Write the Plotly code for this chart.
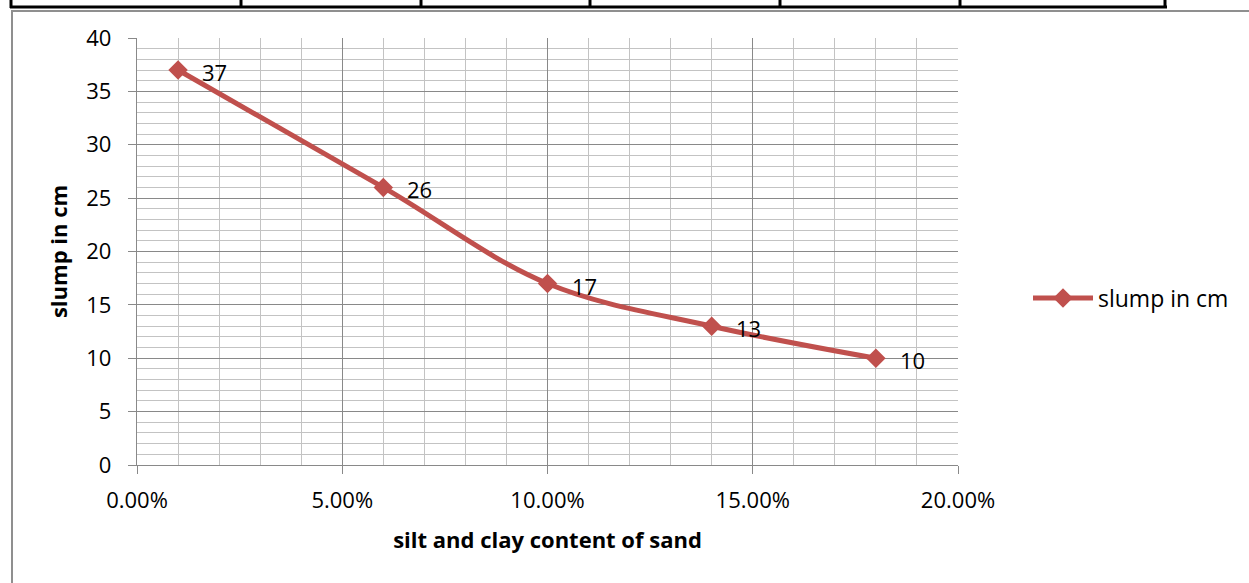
import plotly.graph_objects as go

# Slump test results versus silt/clay content of the sand
silt_clay_content = [0.01, 0.06, 0.10, 0.14, 0.18]
slump_cm = [37, 26, 17, 13, 10]
series_name = "slump in cm"
x_title = "silt and clay content of sand"
y_title = "slump in cm"

W, H = 1249, 583
PLOT_L, PLOT_R, PLOT_T, PLOT_B = 137, 958, 38, 465

RED = "#C0504D"
MAJOR_GRID = "#898989"
MINOR_GRID = "#c3c3c3"
FONT = "Open Sans"


def px_x(px):
    return (px - PLOT_L) / (PLOT_R - PLOT_L)


def px_y(py):
    return (PLOT_B - py) / (PLOT_B - PLOT_T)


fig = go.Figure()
fig.add_trace(go.Scatter(
    x=silt_clay_content,
    y=slump_cm,
    mode="lines+markers",
    name=series_name,
    line=dict(color=RED, width=5, shape="spline", smoothing=1),
    marker=dict(symbol="diamond", size=15, color=RED),
))

# data labels to the right of each point
annotations = []
for xv, yv in zip(silt_clay_content, slump_cm):
    annotations.append(dict(
        x=xv, y=yv, xref="x", yref="y", text=str(yv),
        showarrow=False, xanchor="left", yanchor="middle",
        xshift=22, yshift=-2,
        font=dict(family=FONT, size=22, color="#000000"),
    ))

# page decorations: table rule above the chart and the chart frame
shapes = []
shapes.append(dict(type="line", xref="paper", yref="paper",
                   x0=px_x(10), x1=px_x(1167), y0=px_y(7), y1=px_y(7),
                   line=dict(color="#000000", width=3)))
for vx in [11, 241, 421, 590, 780, 960, 1165]:
    shapes.append(dict(type="line", xref="paper", yref="paper",
                       x0=px_x(vx), x1=px_x(vx), y0=px_y(-2), y1=px_y(8),
                       line=dict(color="#000000", width=3)))
shapes.append(dict(type="line", xref="paper", yref="paper",
                   x0=px_x(11), x1=px_x(1252), y0=px_y(11), y1=px_y(11),
                   line=dict(color="#8f8f8f", width=2)))
shapes.append(dict(type="line", xref="paper", yref="paper",
                   x0=px_x(12), x1=px_x(12), y0=px_y(11), y1=px_y(590),
                   line=dict(color="#8f8f8f", width=2)))

axis_common = dict(
    showgrid=True, gridcolor=MAJOR_GRID, gridwidth=1.3,
    showline=True, linecolor=MAJOR_GRID, linewidth=1.3,
    ticks="outside", ticklen=8, tickcolor=MAJOR_GRID, tickwidth=1.3,
    zeroline=False,
    tickfont=dict(family=FONT, size=22, color="#000000"),
)

fig.update_layout(
    width=W, height=H,
    margin=dict(l=PLOT_L, r=W - PLOT_R, t=PLOT_T, b=H - PLOT_B),
    paper_bgcolor="white", plot_bgcolor="white",
    font=dict(family=FONT, color="#000000"),
    showlegend=True,
    legend=dict(x=px_x(1028), y=px_y(298), xanchor="left", yanchor="middle",
                font=dict(family=FONT, size=23, color="#000000"),
                bgcolor="rgba(0,0,0,0)", itemwidth=60),
    xaxis=dict(
        range=[0, 0.2], tick0=0, dtick=0.05, tickformat=".2%",
        minor=dict(dtick=0.01, showgrid=True, gridcolor=MINOR_GRID, gridwidth=1.3),
        ticklabelstandoff=7,
        title=dict(text=x_title, standoff=20,
                   font=dict(family=FONT, size=22, weight="bold", color="#000000")),
        **axis_common,
    ),
    yaxis=dict(
        range=[0, 40], tick0=0, dtick=5,
        minor=dict(dtick=1, showgrid=True, gridcolor=MINOR_GRID, gridwidth=1.3),
        ticklabelstandoff=12,
        title=dict(text=y_title, standoff=12,
                   font=dict(family=FONT, size=22, weight="bold", color="#000000")),
        **axis_common,
    ),
    annotations=annotations,
    shapes=shapes,
)

fig.write_html("out.html")
